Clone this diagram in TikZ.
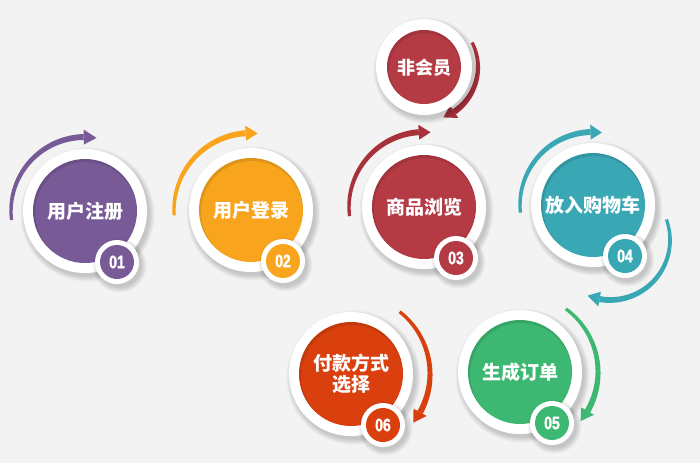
\documentclass[tikz,border=0pt]{standalone}
\usepackage{fontspec}
\newfontfamily\cjk{Noto Sans CJK SC}
\newfontfamily\numfont[FakeStretch=0.78,BoldFeatures={FakeBold=1.6}]{Liberation Sans}
\definecolor{bg}{HTML}{F3F3F3}
\definecolor{cpurple}{HTML}{785A97}
\definecolor{corange}{HTML}{F8A51D}
\definecolor{cred}{HTML}{B43A44}
\definecolor{credarc}{HTML}{A8323C}
\definecolor{cteal}{HTML}{3AA7B5}
\definecolor{cgreen}{HTML}{3DB872}
\definecolor{cvermil}{HTML}{D9400E}
\tikzset{
  lbl/.style={text=white, font=\cjk\bfseries\fontsize{19}{21}\selectfont, align=center, inner sep=0pt},
  numlbl/.style={text=white, font=\numfont\bfseries\fontsize{18}{18}\selectfont, inner sep=0pt},
}
% tapered arc arrow: cx cy R a1 a2 color tipangle
\newcommand\tarc[7]{%
  \fill[#6] plot[domain=#4:#5,samples=60,variable=\t]
    ({#1+(#3+1.6+1.4*(\t-(#4))/((#5)-(#4)))*cos(\t)},{#2-(#3+1.6+1.4*(\t-(#4))/((#5)-(#4)))*sin(\t)})
    -- plot[domain=#5:#4,samples=60,variable=\t]
    ({#1+(#3-1.6-1.4*(\t-(#4))/((#5)-(#4)))*cos(\t)},{#2-(#3-1.6-1.4*(\t-(#4))/((#5)-(#4)))*sin(\t)})
    -- cycle;
  \fill[#6] ({#1+(#3+7.5)*cos(#5)},{#2-(#3+7.5)*sin(#5)})
    -- ({#1+#3*cos(#7)},{#2-#3*sin(#7)})
    -- ({#1+(#3-7.5)*cos(#5)},{#2-(#3-7.5)*sin(#5)}) -- cycle;
}
% soft shadow
\newcommand\softshadow[3]{%
  \foreach \k in {0,...,5}{\fill[black,opacity=0.03] (#1+2.5,#2+3.5) circle ({#3+\k});}
}
% main ball: name cx cy color text num
\newcommand\stepball[6]{%
  \softshadow{#2}{#3}{62}
  \fill[white] (#2,#3) circle (62);
  \fill[#4] (#2,#3) circle (52);
  \begin{scope}
    \clip (#2,#3) circle (52);
    \fill[black,opacity=0.10,even odd rule] (#2,#3) circle (60) (#2+1,#3+2) circle (51);
  \end{scope}
  \node[lbl] (#1) at (#2,#3) {#5};
  \softshadow{#2+32}{#3+51}{22}
  \fill[white] (#2+32,#3+51) circle (22);
  \fill[#4] (#2+32,#3+51) circle (17);
  \node[numlbl] (#1n) at (#2+32,#3+51) {#6};
}
\begin{document}
\begin{tikzpicture}[x=1pt,y=-1pt]
\useasboundingbox (0,0) rectangle (700,463);
\fill[bg] (0,0) rectangle (700,463);

% arcs
\tarc{85}{211}{74}{187}{91}{cpurple}{81}
\tarc{251}{210}{77}{184}{94}{corange}{85}
\tarc{424}{207}{75}{187}{94}{credarc}{85}
\tarc{424}{67}{54}{27}{-56}{credarc}{-69}
\tarc{593}{205}{73}{186}{92}{cteal}{83}
\tarc{610}{240}{60}{20}{-100}{cteal}{-112}
\tarc{520}{372}{78}{54}{-30}{cgreen}{-39}
\tarc{351}{374}{79}{52}{-29}{cvermil}{-38}

% non-member ball
\softshadow{424}{67}{48}
\fill[white] (424,67) circle (48);
\fill[cred] (424,67) circle (37);
\begin{scope}
  \clip (424,67) circle (37);
  \fill[black,opacity=0.10,even odd rule] (424,67) circle (45) (425,69) circle (36);
\end{scope}
\node[lbl,font=\cjk\bfseries\fontsize{18}{20}\selectfont] (nm) at (424,68) {非会员};

\stepball{s1}{85}{211}{cpurple}{用户注册}{01}
\stepball{s2}{251}{210}{corange}{用户登录}{02}
\stepball{s3}{424}{207}{cred}{商品浏览}{03}
\stepball{s4}{593}{205}{cteal}{放入购物车}{04}
\stepball{s5}{520}{372}{cgreen}{生成订单}{05}
\stepball{s6}{351}{374}{cvermil}{付款方式\\选择}{06}
\end{tikzpicture}
\end{document}
